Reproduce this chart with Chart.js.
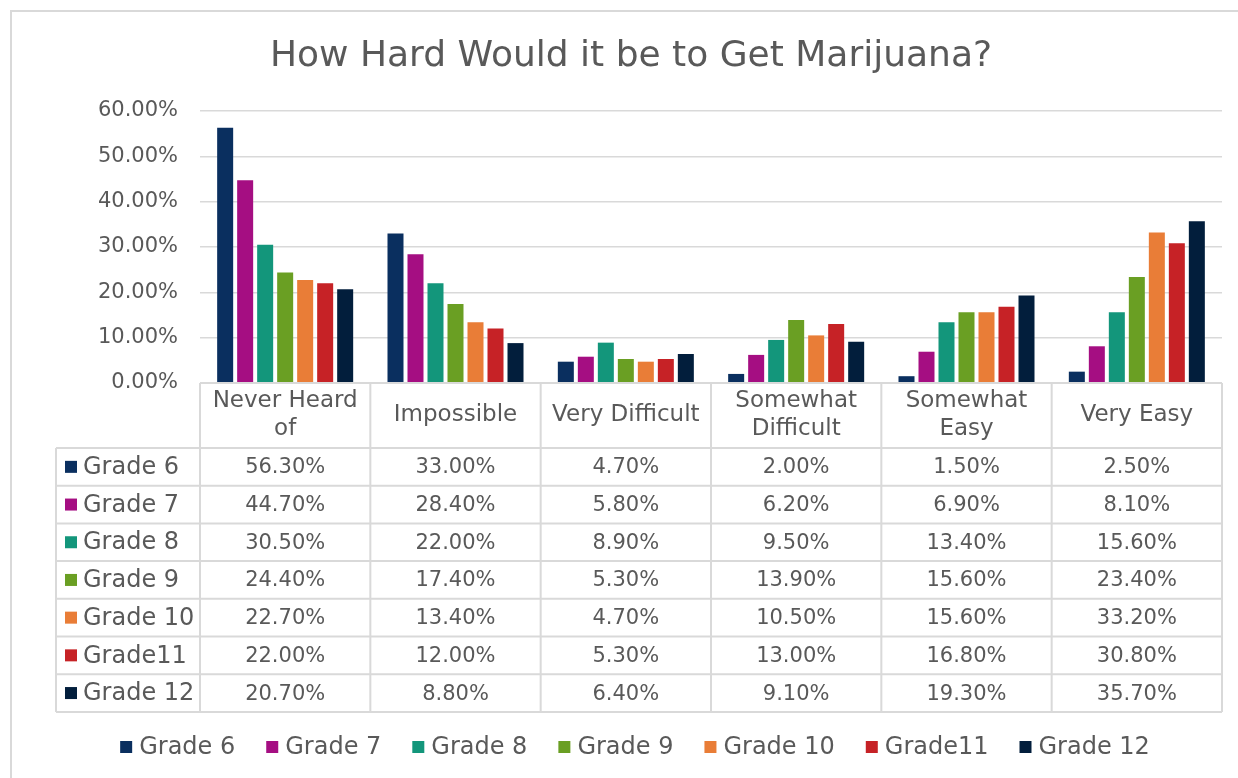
<!DOCTYPE html>
<html>
<head>
<meta charset="utf-8">
<title>How Hard Would it be to Get Marijuana?</title>
<script src="https://cdn.jsdelivr.net/npm/chart.js@4.4.1/dist/chart.umd.min.js"></script>
<style>
  html, body { margin: 0; padding: 0; background: #fff; overflow: hidden; }
  #wrap { position: relative; width: 1238px; height: 778px; }
</style>
</head>
<body>
<div id="wrap"><canvas id="chart" width="1238" height="778"></canvas></div>
<script>
// dati
const chartTitle = 'How Hard Would it be to Get Marijuana?';
const categories = [['Never Heard', 'of'], ['Impossible'], ['Very Difficult'], ['Somewhat', 'Difficult'], ['Somewhat', 'Easy'], ['Very Easy']];
const grades = ['Grade 6', 'Grade 7', 'Grade 8', 'Grade 9', 'Grade 10', 'Grade11', 'Grade 12'];
const gradeColors = ['#0a2f5f', '#a50e82', '#13967b', '#6a9f23', '#e97d37', '#c62226', '#021e3c'];

const grade6 = [56.3, 33.0, 4.7, 2.0, 1.5, 2.5];
const grade7 = [44.7, 28.4, 5.8, 6.2, 6.9, 8.1];
const grade8 = [30.5, 22.0, 8.9, 9.5, 13.4, 15.6];
const grade9 = [24.4, 17.4, 5.3, 13.9, 15.6, 23.4];
const grade10 = [22.7, 13.4, 4.7, 10.5, 15.6, 33.2];
const grade11 = [22.0, 12.0, 5.3, 13.0, 16.8, 30.8];
const grade12 = [20.7, 8.8, 6.4, 9.1, 19.3, 35.7];
const seriesValues = [grade6, grade7, grade8, grade9, grade10, grade11, grade12];

const yMin = 0;
const yMax = 60;
const yStep = 10;

const textColor = '#595959';
const lineColor = '#d9d9d9';
const fontFamily = "'DejaVu Sans', sans-serif";

function pct(v) {
    return v.toFixed(2) + '%';
}

// titolo, tabella dati e legenda disegnati sotto l'area del grafico
const tablePlugin = {
    id: 'tablePlugin',
    afterDraw(chart) {
        const ctx = chart.ctx;
        const area = chart.chartArea;
        const xScale = chart.scales.x;
        const n = categories.length;
        const colW = (area.right - area.left) / n;
        const top = area.bottom;
        const headH = 65;
        const rowH = 37.7;
        const tableLeft = 56;
        const bottom = top + headH + rowH * grades.length;

        ctx.save();

        // bordo esterno
        ctx.strokeStyle = lineColor;
        ctx.lineWidth = 2;
        ctx.beginPath();
        ctx.moveTo(11, 778);
        ctx.lineTo(11, 11);
        ctx.lineTo(1238, 11);
        ctx.stroke();

        // titolo
        ctx.fillStyle = textColor;
        ctx.textAlign = 'center';
        ctx.textBaseline = 'middle';
        ctx.font = '36px ' + fontFamily;
        ctx.fillText(chartTitle, 631, 57);

        // griglia tabella
        ctx.beginPath();
        ctx.moveTo(area.left, top);
        ctx.lineTo(area.right, top);
        for (let r = 0; r <= grades.length; r++) {
            const y = top + headH + r * rowH;
            ctx.moveTo(tableLeft, y);
            ctx.lineTo(area.right, y);
        }
        for (let c = 0; c <= n; c++) {
            const x = area.left + c * colW;
            ctx.moveTo(x, top);
            ctx.lineTo(x, bottom);
        }
        ctx.moveTo(tableLeft, top + headH);
        ctx.lineTo(tableLeft, bottom);
        ctx.stroke();

        // intestazioni categorie
        ctx.font = '23px ' + fontFamily;
        categories.forEach((lines, i) => {
            const cx = xScale.getPixelForValue(i);
            const cy = top + headH / 2;
            const lh = 28;
            lines.forEach((line, k) => {
                ctx.fillText(line, cx, cy + (k - (lines.length - 1) / 2) * lh);
            });
        });

        // righe
        grades.forEach((g, r) => {
            const cy = top + headH + r * rowH + rowH / 2;
            ctx.fillStyle = gradeColors[r];
            ctx.fillRect(65, cy - 6, 12, 12);
            ctx.fillStyle = textColor;
            ctx.textAlign = 'left';
            ctx.font = '24px ' + fontFamily;
            ctx.fillText(g, 83, cy + 1);
            ctx.textAlign = 'center';
            ctx.font = '21px ' + fontFamily;
            seriesValues[r].forEach((v, i) => {
                ctx.fillText(pct(v), xScale.getPixelForValue(i), cy + 1);
            });
        });

        // legenda
        ctx.font = '24px ' + fontFamily;
        const box = 12, gap = 7, itemGap = 31;
        const widths = grades.map(g => ctx.measureText(g).width);
        const total = widths.reduce((a, w) => a + box + gap + w, 0) + itemGap * (grades.length - 1);
        let lx = 635 - total / 2;
        const ly = 747;
        ctx.textAlign = 'left';
        grades.forEach((g, i) => {
            ctx.fillStyle = gradeColors[i];
            ctx.fillRect(lx, ly - 6, box, box);
            ctx.fillStyle = textColor;
            ctx.fillText(g, lx + box + gap, ly + 1);
            lx += box + gap + widths[i] + itemGap;
        });

        ctx.restore();
    }
};

const datasets = grades.map((g, i) => ({
    label: g,
    data: seriesValues[i],
    backgroundColor: gradeColors[i],
    borderWidth: 0,
    categoryPercentage: 0.822,
    barPercentage: 0.8
}));

new Chart(document.getElementById('chart'), {
    type: 'bar',
    data: {
        labels: categories,
        datasets: datasets
    },
    options: {
        responsive: false,
        animation: false,
        layout: { padding: { left: 0, top: 111, right: 16, bottom: 395 } },
        plugins: {
            legend: { display: false },
            title: { display: false },
            tooltip: { enabled: false }
        },
        scales: {
            x: {
                ticks: { display: false },
                grid: { display: false, drawTicks: false },
                border: { display: false },
                afterFit: s => { s.height = 0; }
            },
            y: {
                min: yMin,
                max: yMax,
                ticks: {
                    stepSize: yStep,
                    padding: 22,
                    color: textColor,
                    font: { family: fontFamily, size: 21 },
                    callback: v => pct(v)
                },
                grid: { color: lineColor, lineWidth: 1.5, drawTicks: false },
                border: { display: false },
                afterFit: s => { s.width = 200; }
            }
        }
    },
    plugins: [tablePlugin]
});
</script>
</body>
</html>
